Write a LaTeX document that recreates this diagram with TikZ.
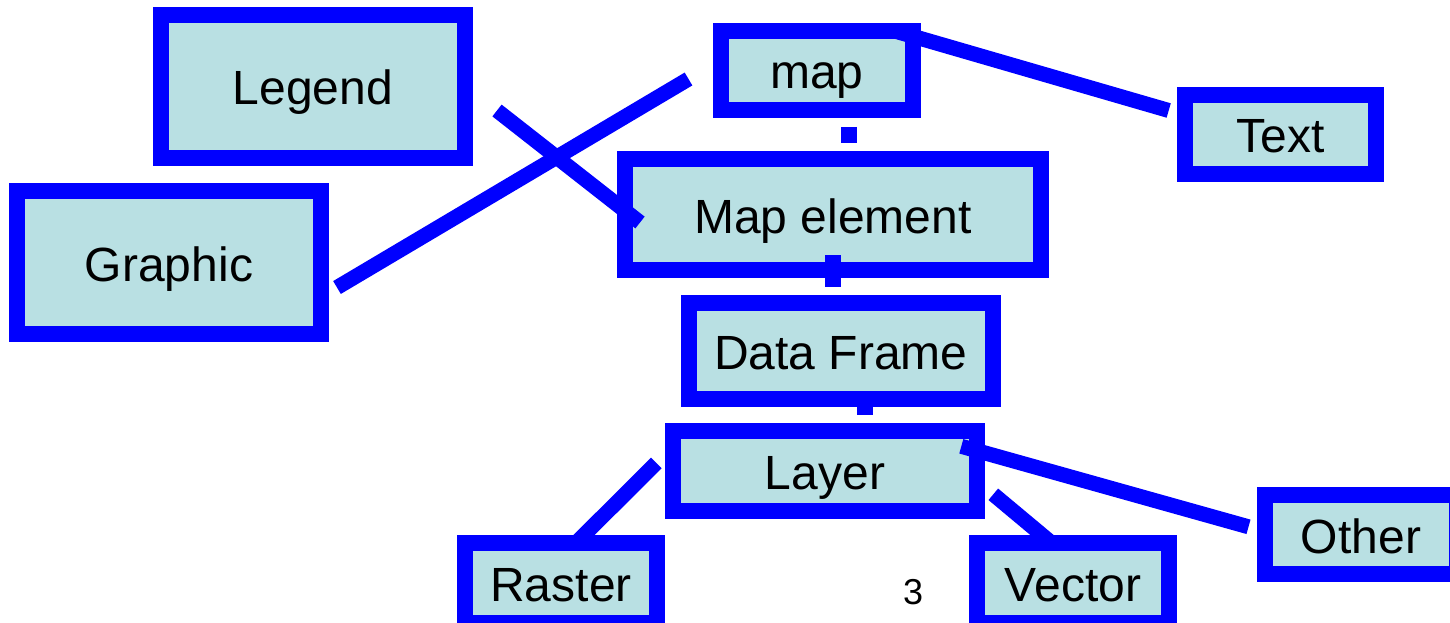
\documentclass[tikz,border=0pt]{standalone}
\usepackage{fontspec}
\setmainfont{Liberation Sans}
\definecolor{boxfill}{RGB}{185,224,227}
\definecolor{edgeblue}{RGB}{0,0,255}
\tikzset{
  mbox/.style={draw=edgeblue, fill=boxfill, line width=16pt, rectangle, inner sep=0pt,
    text height=37pt, text depth=0pt,
    font=\fontsize{48}{56}\selectfont, text=black},
  link/.style={draw=edgeblue, line width=15pt, line cap=butt}
}
\begin{document}
\begin{tikzpicture}[x=1pt,y=-1pt]
\useasboundingbox (0,0) rectangle (1450,623);
% boxes
\node[mbox, minimum width=304pt, minimum height=143pt] (legend) at (313,86.5) {Legend};
\node[mbox, minimum width=192pt, minimum height=79pt] (map) at (817,70.5) {map};
\node[mbox, minimum width=191pt, minimum height=79pt] (text) at (1280.5,134.5) {Text};
\node[mbox, minimum width=304pt, minimum height=143pt] (graphic) at (169,262.5) {Graphic};
\node[mbox, minimum width=416pt, minimum height=111pt] (mapel) at (833,214.5) {Map element};
\node[mbox, minimum width=304pt, minimum height=96pt] (frame) at (841,351) {Data Frame};
\node[mbox, minimum width=304pt, minimum height=80pt] (layer) at (825,471) {Layer};
\node[mbox, minimum width=192pt, minimum height=80pt] (raster) at (561,583) {Raster};
\node[mbox, minimum width=192pt, minimum height=80pt] (vector) at (1073,583) {Vector};
\node[mbox, minimum width=192pt, minimum height=79pt] (other) at (1361,534.5) {Other};
\node[font=\fontsize{36}{42}\selectfont, inner sep=0pt] (pagenum) at (913,592) {3};
% connector end points
\coordinate (legA) at (497,110.5);
\coordinate (legB) at (640,222.5);
\coordinate (graA) at (337,287.5);
\coordinate (graB) at (688.5,79);
\coordinate (mapA) at (893,30.5);
\coordinate (txtB) at (1168.7,110.5);
\coordinate (mapC) at (849,127);
\coordinate (melA) at (849,143);
\coordinate (melC) at (833,255);
\coordinate (frmA) at (833,287);
\coordinate (frmC) at (865,400);
\coordinate (layA) at (865,415);
\coordinate (layR) at (656.3,463);
\coordinate (rasB) at (577,542);
\coordinate (layV) at (993.3,494.3);
\coordinate (vecB) at (1051.6,543);
\coordinate (layO) at (961.3,446.3);
\coordinate (othB) at (1248.5,526.8);
% connectors
\draw[link] (legA) -- (legB);
\draw[link] (graA) -- (graB);
\draw[link] (mapA) -- (txtB);
\draw[link, line width=16pt] (mapC) -- (melA);
\draw[link, line width=16pt] (melC) -- (frmA);
\draw[link, line width=16pt] (frmC) -- (layA);
\draw[link] (layR) -- (rasB);
\draw[link] (layV) -- (vecB);
\draw[link] (layO) -- (othB);
\end{tikzpicture}
\end{document}
